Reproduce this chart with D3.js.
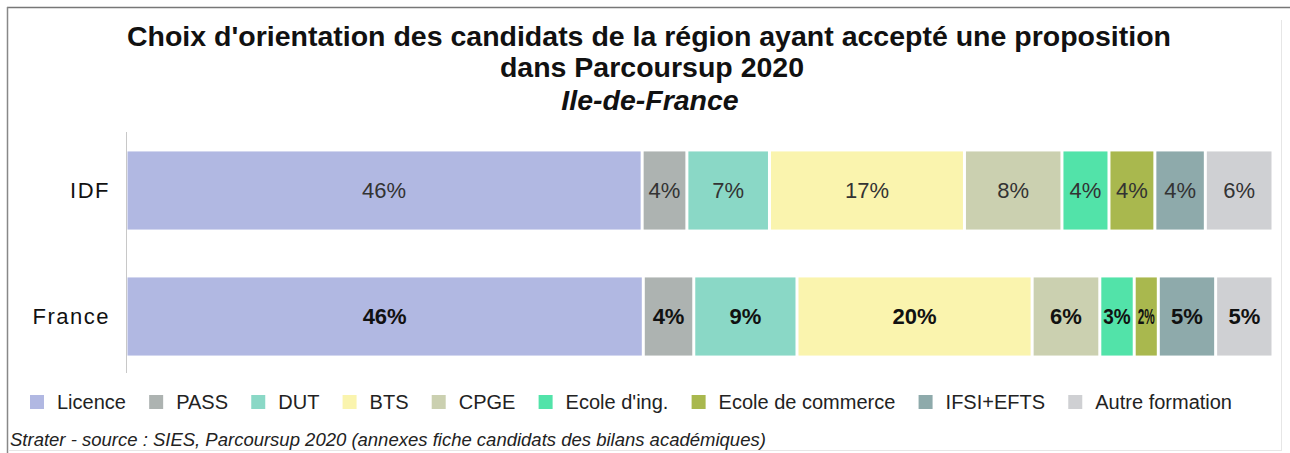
<!DOCTYPE html>
<html lang="fr">
<head>
<meta charset="UTF-8">
<title>Choix d'orientation - Parcoursup 2020</title>
<script src="https://d3js.org/d3.v7.min.js"></script>
<style>
    body { margin: 0; background: #fff; }
    svg { display: block; font-family: "Liberation Sans", Arial, sans-serif; }
</style>
</head>
<body>
<div id="chart"></div>
<script>
// donnees
var categories = ["Licence", "PASS", "DUT", "BTS", "CPGE", "Ecole d'ing.", "Ecole de commerce", "IFSI+EFTS", "Autre formation"];
var regions = ["IDF", "France"];
var idfValues = [45.0, 3.9, 7.2, 17.0, 8.5, 4.1, 4.0, 4.4, 5.9];
var franceValues = [45.1, 4.4, 9.0, 20.5, 5.9, 3.0, 2.1, 5.0, 5.0];
var idfLabels = ["46%", "4%", "7%", "17%", "8%", "4%", "4%", "4%", "6%"];
var franceLabels = ["46%", "4%", "9%", "20%", "6%", "3%", "2%", "5%", "5%"];
var colors = ["#b1b8e2", "#adb3b1", "#8ad8c6", "#faf4ae", "#cbd0b0", "#52e3a9", "#a9b84e", "#8eaaab", "#cfd0d3"];

var width = 1290, height = 453;

var rows = regions.map(function(r, i) {
    var vals = i === 0 ? idfValues : franceValues;
    var o = { region: r };
    categories.forEach(function(c, j) { o[c] = vals[j]; });
    return o;
});
var labelsByRegion = { "IDF": idfLabels, "France": franceLabels };

var svg = d3.select("#chart").append("svg")
    .attr("width", width)
    .attr("height", height);

// cadre
svg.append("line").attr("x1", 7).attr("x2", width).attr("y1", 7.5).attr("y2", 7.5)
    .attr("stroke", "#777").attr("stroke-width", 1.5);
svg.append("line").attr("x1", 7.5).attr("x2", 7.5).attr("y1", 7).attr("y2", height)
    .attr("stroke", "#888").attr("stroke-width", 1.5);
svg.append("line").attr("x1", 1281.5).attr("x2", 1281.5).attr("y1", 20).attr("y2", 450)
    .attr("stroke", "#e6e6e6");
svg.append("line").attr("x1", 8).attr("x2", 1282).attr("y1", 450.5).attr("y2", 450.5)
    .attr("stroke", "#e6e6e6");

// titre
var title = svg.append("g").attr("text-anchor", "middle").attr("fill", "#111")
    .attr("font-weight", "bold").attr("font-size", 28.5);
title.append("text").attr("x", 649).attr("y", 46)
    .text("Choix d'orientation des candidats de la région ayant accepté une proposition");
title.append("text").attr("x", 652).attr("y", 77).text("dans Parcoursup 2020");
title.append("text").attr("x", 650).attr("y", 110).attr("font-style", "italic").text("Ile-de-France");

var x = d3.scaleLinear().domain([0, 100]).range([126, 1273]);
var y = d3.scaleBand().domain(regions).range([127.5, 379.5])
    .paddingInner(0.38).paddingOuter(0.19);
var color = d3.scaleOrdinal().domain(categories).range(colors);

var stacked = d3.stack().keys(categories)(rows);

var layers = svg.append("g").selectAll("g")
    .data(stacked)
    .enter().append("g")
    .attr("fill", function(d) { return color(d.key); });

layers.selectAll("rect")
    .data(function(d) { return d; })
    .enter().append("rect")
    .attr("x", function(d) { return x(d[0]) + 1.5; })
    .attr("y", function(d) { return y(d.data.region); })
    .attr("width", function(d) { return Math.max(0, x(d[1]) - x(d[0]) - 3); })
    .attr("height", y.bandwidth());

// etiquettes
stacked.forEach(function(layer, j) {
    layer.forEach(function(d) {
        var isIdf = d.data.region === "IDF";
        var w = x(d[1]) - x(d[0]) - 3;
        var t = svg.append("text")
            .attr("x", (x(d[0]) + x(d[1])) / 2)
            .attr("y", y(d.data.region) + y.bandwidth() / 2)
            .attr("dy", "0.36em")
            .attr("text-anchor", "middle")
            .attr("font-size", 22)
            .attr("font-weight", isIdf ? "normal" : "bold")
            .attr("fill", isIdf ? "#333" : "#111")
            .text(labelsByRegion[d.data.region][j]);
        var tw = t.node().getComputedTextLength();
        if (tw > w - 4) {
            t.attr("textLength", w - 4).attr("lengthAdjust", "spacingAndGlyphs");
        }
    });
});

// axe vertical
var yAxis = svg.append("g")
    .attr("transform", "translate(126,0)")
    .call(d3.axisLeft(y).tickSize(0).tickPadding(16));
yAxis.select(".domain").attr("stroke", "#c8c8c8").attr("d", "M0.5,132V373");
yAxis.selectAll("text")
    .attr("font-size", 22)
    .attr("letter-spacing", "1.5px")
    .attr("font-family", "\"Liberation Sans\", Arial, sans-serif")
    .attr("fill", "#111");

// legende
var legend = svg.append("g").attr("font-size", 20).attr("fill", "#222");
var sq = 14, pad = 13, left = 30, right = 1232, legY = 402;
var items = legend.selectAll("g").data(categories).enter().append("g");
items.append("rect")
    .attr("width", sq).attr("height", sq)
    .attr("y", legY - sq / 2)
    .attr("fill", function(d) { return color(d); });
items.append("text")
    .attr("y", legY)
    .attr("dy", "0.35em")
    .attr("fill", "#222")
    .text(function(d) { return d; });
var widths = [];
items.selectAll("text").each(function() { widths.push(this.getComputedTextLength()); });
var used = d3.sum(widths) + categories.length * (sq + pad);
var gap = (right - left - used) / (categories.length - 1);
var cx = left;
items.each(function(d, i) {
    var g = d3.select(this);
    g.select("rect").attr("x", cx);
    g.select("text").attr("x", cx + sq + pad);
    cx += sq + pad + widths[i] + gap;
});

// source
svg.append("text")
    .attr("x", 10).attr("y", 446)
    .attr("font-size", 18.5).attr("font-style", "italic").attr("fill", "#222")
    .text("Strater - source : SIES, Parcoursup 2020 (annexes fiche candidats des bilans académiques)");
</script>
</body>
</html>
